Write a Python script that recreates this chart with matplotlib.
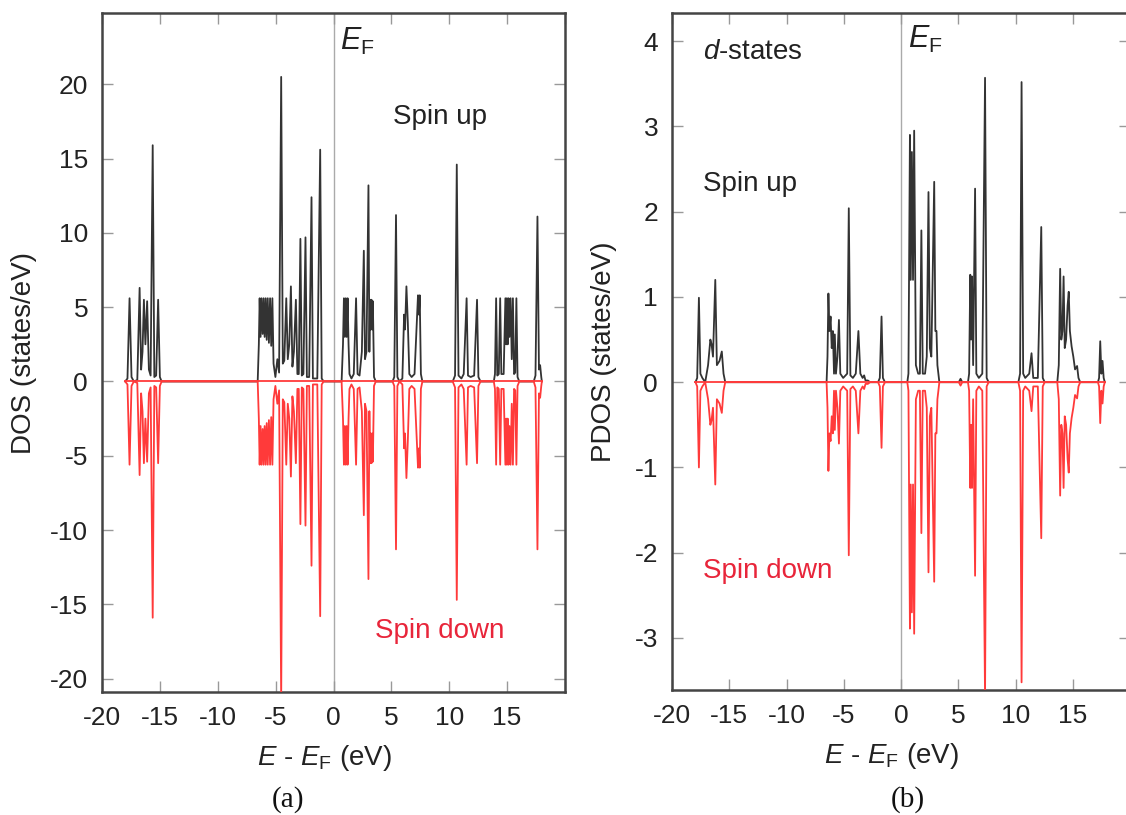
import matplotlib
matplotlib.use("Agg")
import matplotlib.pyplot as plt

plt.rcParams['font.family'] = ['Liberation Sans', 'DejaVu Sans']
plt.rcParams['mathtext.fontset'] = 'custom'
plt.rcParams['mathtext.rm'] = 'Liberation Sans'
plt.rcParams['mathtext.it'] = 'Liberation Sans:italic'
plt.rcParams['mathtext.bf'] = 'Liberation Sans:bold'
plt.rcParams['axes.unicode_minus'] = False

# ---------------- panel (a): total DOS ----------------
dos_energy = [
    -18.00, -17.80, -17.62, -17.45, -17.25, -16.95, -16.75, -16.62, -16.50, -16.38,
    -16.25, -16.10, -15.95, -15.80, -15.62, -15.48, -15.32, -15.15, -15.00, -14.85,
    -6.55, -6.45, -6.38, -6.30, -6.22, -6.12, -6.04, -5.95, -5.86, -5.77,
    -5.68, -5.58, -5.48, -5.38, -5.28, -5.18, -5.02, -4.85, -4.70, -4.52,
    -4.38, -4.25, -4.08, -3.95, -3.82, -3.68, -3.55, -3.42, -3.25, -3.12,
    -3.00, -2.86, -2.74, -2.60, -2.42, -2.30, -2.10, -1.90, -1.78, -1.40,
    -1.15, -1.02, -0.85,
    0.70, 0.82, 0.90, 0.98, 1.06, 1.14, 1.22, 1.30, 1.38, 1.55,
    1.75, 1.95, 2.08, 2.25, 2.45, 2.62, 2.72, 2.85, 3.02, 3.10,
    3.16, 3.22, 3.28, 3.34, 3.40, 3.50, 3.65,
    5.10, 5.25, 5.40, 5.52, 5.70, 5.95, 6.10, 6.18, 6.30, 6.42,
    6.55, 6.75, 7.00, 7.30, 7.38, 7.45, 7.55, 7.68,
    10.30, 10.50, 10.65, 10.80, 11.05, 11.25, 11.50, 11.62, 11.85, 12.15,
    12.40, 12.52, 12.70,
    13.85, 13.95, 14.05, 14.15, 14.28, 14.40, 14.50, 14.70, 14.85, 14.92,
    14.98, 15.05, 15.12, 15.20, 15.30, 15.40, 15.50, 15.60, 15.70, 15.80,
    15.90, 16.05,
    17.30, 17.45, 17.62, 17.75, 17.85, 17.95, 18.00,
]
dos_spin_up = [
    0.0, 0.2, 5.6, 0.3, 0.0, 0.1, 6.3, 0.8, 2.0, 5.5,
    2.5, 5.4, 0.8, 0.4, 15.9, 0.3, 0.4, 5.5, 0.3, 0.0,
    0.0, 2.5, 5.6, 3.0, 5.6, 3.2, 5.6, 3.0, 5.6, 2.8,
    5.6, 2.6, 5.6, 2.4, 5.6, 1.2, 0.3, 1.5, 0.6, 20.5,
    1.2, 1.4, 5.6, 1.5, 2.5, 6.4, 1.0, 2.0, 5.5, 0.5,
    0.5, 9.6, 0.4, 0.5, 9.7, 0.3, 0.3, 12.4, 0.2, 0.2,
    15.6, 0.2, 0.0,
    0.0, 2.5, 5.6, 3.0, 5.6, 3.0, 5.6, 2.5, 0.5, 0.2,
    0.5, 5.6, 0.5, 0.4, 2.0, 8.8, 1.5, 2.0, 13.2, 2.0,
    5.5, 3.5, 5.5, 3.5, 5.4, 0.3, 0.0,
    0.0, 0.3, 11.2, 0.3, 0.0, 0.2, 4.5, 3.5, 6.4, 4.0,
    0.5, 0.3, 0.5, 5.8, 4.5, 5.8, 0.5, 0.0,
    0.0, 0.4, 14.6, 0.4, 0.2, 0.5, 5.6, 0.4, 0.3, 0.4,
    5.5, 0.3, 0.0,
    0.0, 0.5, 5.6, 0.4, 0.5, 5.6, 0.5, 0.5, 5.6, 2.5,
    5.6, 2.5, 5.6, 3.0, 5.6, 1.5, 5.6, 0.5, 0.6, 5.6,
    0.3, 0.0,
    0.0, 0.4, 11.1, 0.8, 1.1, 0.3, 0.0,
]
dos_spin_down = [
    0.0, -0.2, -5.6, -0.3, 0.0, -0.1, -6.3, -0.8, -2.0, -5.5,
    -2.5, -5.4, -0.8, -0.4, -15.9, -0.3, -0.4, -5.5, -0.3, 0.0,
    0.0, -2.5, -5.6, -3.0, -5.6, -3.2, -5.6, -3.0, -5.6, -2.8,
    -5.6, -2.6, -5.6, -2.4, -5.6, -1.2, -0.3, -1.5, -0.6, -21.5,
    -1.2, -1.4, -5.6, -1.5, -2.5, -6.4, -1.0, -2.0, -5.5, -0.5,
    -0.5, -9.6, -0.4, -0.5, -9.7, -0.3, -0.3, -12.4, -0.2, -0.2,
    -15.8, -0.2, 0.0,
    0.0, -2.5, -5.6, -3.0, -5.6, -3.0, -5.6, -2.5, -0.5, -0.2,
    -0.5, -5.6, -0.5, -0.4, -2.0, -9.0, -1.5, -2.0, -13.3, -2.0,
    -5.5, -3.5, -5.5, -3.5, -5.4, -0.3, 0.0,
    0.0, -0.3, -11.3, -0.3, 0.0, -0.2, -4.5, -3.5, -6.5, -4.0,
    -0.5, -0.3, -0.5, -5.8, -4.5, -5.8, -0.5, 0.0,
    0.0, -0.4, -14.7, -0.4, -0.2, -0.5, -5.6, -0.4, -0.3, -0.4,
    -5.5, -0.3, 0.0,
    0.0, -0.5, -5.6, -0.4, -0.5, -5.6, -0.5, -0.5, -5.6, -2.5,
    -5.6, -2.5, -5.6, -3.0, -5.6, -1.5, -5.6, -0.5, -0.6, -5.6,
    -0.3, 0.0,
    0.0, -0.4, -11.3, -0.8, -1.1, -0.3, 0.0,
]

# ---------------- panel (b): d-states PDOS ----------------
pdos_energy = [
    -17.95, -17.80, -17.65, -17.52, -17.35, -17.10, -16.85, -16.65, -16.55, -16.42,
    -16.22, -16.08, -15.85, -15.65, -15.50, -15.35,
    -6.50, -6.42, -6.34, -6.25, -6.15, -6.05, -5.95, -5.85, -5.78, -5.68,
    -5.55, -5.42, -5.30, -5.05, -4.70, -4.56, -4.42, -4.20, -3.95, -3.72,
    -3.55, -3.35, -3.22, -3.10, -2.90, -2.70, -2.00, -1.85, -1.70, -1.58,
    -1.40,
    0.55, 0.65, 0.78, 0.85, 0.95, 1.05, 1.15, 1.30, 1.50, 1.65,
    1.78, 1.90, 2.10, 2.25, 2.40, 2.52, 2.65, 2.90, 3.00, 3.10,
    3.18, 3.35,
    5.05, 5.20, 5.35,
    5.85, 5.95, 6.05, 6.12, 6.20, 6.30, 6.47, 6.58, 6.80, 7.10,
    7.34, 7.48, 7.65,
    10.25, 10.40, 10.53, 10.67, 10.85, 11.20, 11.40, 11.55, 11.95, 12.25,
    12.38, 12.55,
    13.65, 13.78, 13.90, 14.00, 14.10, 14.20, 14.30, 14.42, 14.55, 14.65,
    14.75, 14.90, 15.05, 15.20, 15.38, 15.50, 15.65,
    17.20, 17.30, 17.40, 17.50, 17.60, 17.70, 17.80,
]
pdos_spin_up = [
    0.0, 0.05, 0.99, 0.1, 0.05, 0.0, 0.2, 0.5, 0.45, 0.3,
    1.2, 0.2, 0.25, 0.36, 0.1, 0.0,
    0.0, 0.3, 1.04, 0.6, 0.77, 0.4, 0.6, 0.1, 0.56, 0.1,
    0.3, 0.73, 0.1, 0.05, 0.1, 2.04, 0.08, 0.05, 0.1, 0.6,
    0.1, 0.05, 0.08, 0.02, 0.02, 0.0, 0.0, 0.05, 0.77, 0.05,
    0.0,
    0.0, 0.1, 2.9, 1.2, 2.7, 1.2, 2.95, 0.2, 0.1, 0.1,
    1.78, 0.1, 0.1, 0.3, 2.23, 0.4, 0.3, 2.35, 0.6, 0.6,
    0.2, 0.0,
    0.0, 0.04, 0.0,
    0.0, 0.1, 1.26, 0.5, 1.24, 0.2, 2.27, 0.1, 0.05, 0.1,
    3.57, 0.05, 0.0,
    0.0, 0.1, 3.52, 0.1, 0.05, 0.1, 0.34, 0.05, 0.05, 1.82,
    0.05, 0.0,
    0.0, 0.2, 1.33, 0.5, 0.6, 1.24, 0.4, 0.5, 0.9, 1.06,
    0.6, 0.42, 0.3, 0.15, 0.19, 0.05, 0.0,
    0.0, 0.05, 0.48, 0.1, 0.25, 0.05, 0.0,
]
pdos_spin_down = [
    0.0, -0.05, -1.0, -0.1, -0.05, 0.0, -0.2, -0.5, -0.45, -0.3,
    -1.2, -0.2, -0.25, -0.36, -0.1, 0.0,
    0.0, -0.3, -1.04, -0.6, -0.69, -0.4, -0.6, -0.1, -0.56, -0.1,
    -0.3, -0.72, -0.1, -0.05, -0.1, -2.03, -0.08, -0.05, -0.1, -0.6,
    -0.1, -0.05, -0.08, -0.02, -0.02, 0.0, 0.0, -0.05, -0.77, -0.05,
    0.0,
    0.0, -0.1, -2.89, -1.2, -2.7, -1.2, -2.95, -0.2, -0.1, -0.1,
    -1.77, -0.1, -0.1, -0.3, -2.23, -0.4, -0.3, -2.34, -0.6, -0.6,
    -0.2, 0.0,
    0.0, -0.04, 0.0,
    0.0, -0.1, -1.24, -0.5, -1.24, -0.2, -2.27, -0.1, -0.05, -0.1,
    -3.7, -0.05, 0.0,
    0.0, -0.1, -3.52, -0.1, -0.05, -0.1, -0.34, -0.05, -0.05, -1.83,
    -0.05, 0.0,
    0.0, -0.2, -1.33, -0.5, -0.6, -1.24, -0.4, -0.5, -0.9, -1.06,
    -0.6, -0.42, -0.3, -0.15, -0.19, -0.05, 0.0,
    0.0, -0.05, -0.48, -0.1, -0.25, -0.05, 0.0,
]

x_ticks = [-20, -15, -10, -5, 0, 5, 10, 15, 20]
x_tick_labels = ['-20', '-15', '-10', '-5', '0', '5', '10', '15', '']
dos_yticks = [-20, -15, -10, -5, 0, 5, 10, 15, 20]
pdos_yticks = [-3, -2, -1, 0, 1, 2, 3, 4]

UP_COLOR = '#333333'
DOWN_COLOR = '#ff3a3a'
TEXT_RED = '#e8253a'

fig = plt.figure(figsize=(11.26, 8.15), dpi=100)
ax1 = fig.add_axes([102/1126, 1-692/815, 463/1126, 679/815])
ax2 = fig.add_axes([672/1126, 1-690/815, 458/1126, 677/815])


def style(ax, yticks):
    for s in ax.spines.values():
        s.set_color('#444444')
        s.set_linewidth(1.8)
    ax.set_xticks(x_ticks)
    ax.set_xticklabels(x_tick_labels)
    ax.set_yticks(yticks)
    ax.set_yticklabels([str(v) for v in yticks])
    ax.tick_params(direction='in', length=8, width=1, color='#999999',
                   top=True, right=True, labelsize=19, pad=10,
                   labelcolor='#222222')


# panel (a)
ax1.axvline(0, color='#aaaaaa', lw=1.0, zorder=1)
ax1.plot(dos_energy, dos_spin_up, color=UP_COLOR, lw=1.3, zorder=2)
ax1.plot(dos_energy, dos_spin_down, color=DOWN_COLOR, lw=1.3, zorder=3)
ax1.plot([-18.0, 18.0], [0, 0], color=DOWN_COLOR, lw=1.3, zorder=3)
ax1.set_xlim(-20, 20)
ax1.set_ylim(-20.9, 24.8)
style(ax1, dos_yticks)
ax1.set_ylabel('DOS (states/eV)', fontsize=20, color='#222222')
ax1.yaxis.set_label_coords(-0.14, 0.5)
ax1.set_xlabel(r'$E$ - $E_\mathrm{F}$ (eV)', fontsize=20, color='#222222')
ax1.xaxis.set_label_coords(0.48, -0.075)
ax1.text(0.6, 23.9, r'$E_\mathrm{F}$', fontsize=22, color='#222222', va='top', ha='left')
ax1.text(9.2, 17.8, 'Spin up', fontsize=20, color='#222222', ha='center', va='center')
ax1.text(9.2, -16.8, 'Spin down', fontsize=20, color=TEXT_RED, ha='center', va='center')

# panel (b)
ax2.axvline(0, color='#aaaaaa', lw=1.0, zorder=1)
ax2.plot(pdos_energy, pdos_spin_up, color=UP_COLOR, lw=1.3, zorder=2)
ax2.plot(pdos_energy, pdos_spin_down, color=DOWN_COLOR, lw=1.3, zorder=3)
ax2.plot([-17.95, 17.8], [0, 0], color=DOWN_COLOR, lw=1.3, zorder=3)
ax2.set_xlim(-20, 20)
ax2.set_ylim(-3.61, 4.33)
style(ax2, pdos_yticks)
ax2.set_ylabel('PDOS (states/eV)', fontsize=20, color='#222222')
ax2.yaxis.set_label_coords(-0.12, 0.5)
ax2.set_xlabel(r'$E$ - $E_\mathrm{F}$ (eV)', fontsize=20, color='#222222')
ax2.xaxis.set_label_coords(0.478, -0.075)
ax2.text(0.6, 4.2, r'$E_\mathrm{F}$', fontsize=22, color='#222222', va='top', ha='left')
ax2.text(-17.3, 3.87, r'$d$-states', fontsize=20, color='#222222', ha='left', va='center')
ax2.text(-17.3, 2.33, 'Spin up', fontsize=20, color='#222222', ha='left', va='center')
ax2.text(-17.3, -2.22, 'Spin down', fontsize=20, color=TEXT_RED, ha='left', va='center')

fig.text(288/1126, 1-800/815, '(a)', fontsize=21, family='Liberation Serif',
         ha='center', va='center', color='#111111')
fig.text(908/1126, 1-800/815, '(b)', fontsize=21, family='Liberation Serif',
         ha='center', va='center', color='#111111')

fig.savefig('out.png', dpi=100)
